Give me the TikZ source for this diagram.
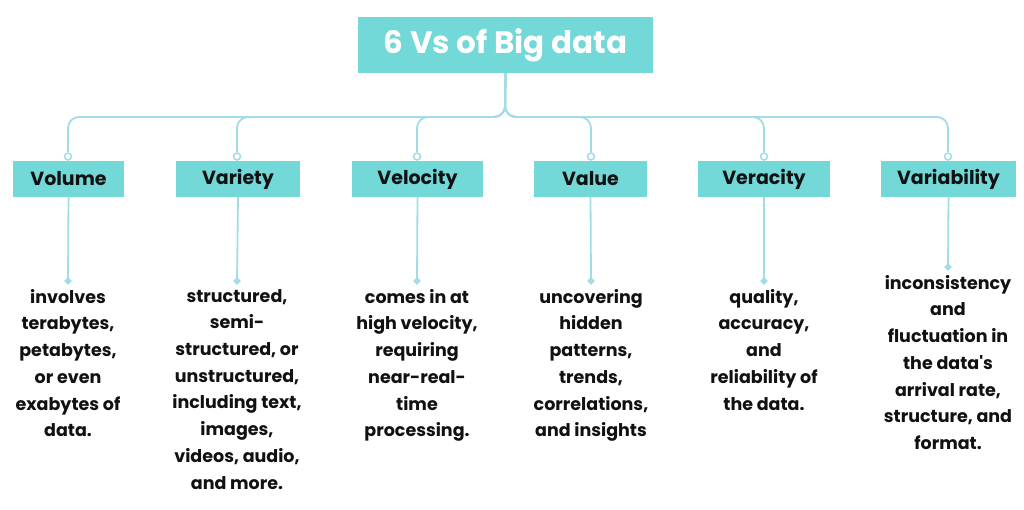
\documentclass[tikz,border=0pt]{standalone}
\usepackage{fontspec}
\setmainfont{Poppins}
\usetikzlibrary{shapes.geometric}
\definecolor{boxteal}{HTML}{72D8D8}
\definecolor{linecol}{HTML}{A2DDE6}
\definecolor{txt}{HTML}{111111}
\tikzset{
  x=1pt,y=-1pt,
  vbox/.style={fill=boxteal,inner sep=0pt,font=\fontsize{19}{22}\selectfont\bfseries,text=txt},
  desc/.style={align=center,font=\fontsize{17.5}{26.7}\selectfont\bfseries,text=txt,anchor=north,inner sep=0pt},
  conn/.style={draw=linecol,line width=1.8pt,rounded corners=11pt},
  ring/.style={circle,draw=linecol,fill=white,line width=1.5pt,minimum size=7pt,inner sep=0pt},
  dia/.style={diamond,fill=linecol,minimum size=8pt,inner sep=0pt},
}
\begin{document}
\begin{tikzpicture}
\useasboundingbox (0,0) rectangle (1024,509);
\fill[white] (0,0) rectangle (1024,509);
\node[fill=boxteal,minimum width=295pt,minimum height=56pt,inner sep=0pt,text=white,font=\fontsize{31}{36}\selectfont\bfseries] (title) at (505.5,45) {6 Vs of Big data};
\coordinate (bus) at (505,117);
% boxes
\node[vbox,minimum width=111pt,minimum height=36pt] (b1) at (68.5,179) {Volume};
\node[vbox,minimum width=124pt,minimum height=36pt] (b2) at (238,179) {Variety};
\node[vbox,minimum width=131pt,minimum height=36pt] (b3) at (417.5,179) {Velocity};
\node[vbox,minimum width=113pt,minimum height=36pt] (b4) at (590.5,179) {Value};
\node[vbox,minimum width=132pt,minimum height=36pt] (b5) at (764,179) {Veracity};
\node[vbox,minimum width=135pt,minimum height=36pt] (b6) at (948.5,179) {Variability};
% rings
\foreach \i/\x in {1/68,2/237,3/417,4/591,5/764,6/948}{
  \node[ring] (r\i) at (\x,156.5) {};
}
% connectors
\foreach \i in {1,...,6}{
  \draw[conn] (title.south) -- (bus) -| (r\i.north);
}
% diamonds
\node[dia] (d1) at (68,281) {};
\node[dia] (d2) at (237,281) {};
\node[dia] (d3) at (417,281) {};
\node[dia] (d4) at (591,281) {};
\node[dia] (d5) at (764,281) {};
\node[dia] (d6) at (948,267) {};
\foreach \i in {1,...,6}{
  \draw[draw=linecol,line width=1.8pt] (b\i.south) -- (d\i.center);
}
% descriptions
\node[desc] (t1) at (68,289) {involves\\terabytes,\\petabytes,\\or even\\exabytes of\\data.};
\node[desc] (t2) at (237,289) {structured,\\semi-\\structured, or\\unstructured,\\including text,\\images,\\videos, audio,\\and more.};
\node[desc] (t3) at (417,289) {comes in at\\high velocity,\\requiring\\near-real-\\time\\processing.};
\node[desc] (t4) at (591,289) {uncovering\\hidden\\patterns,\\trends,\\correlations,\\and insights};
\node[desc] (t5) at (764,289) {quality,\\accuracy,\\and\\reliability of\\the data.};
\node[desc] (t6) at (948,275) {inconsistency\\and\\fluctuation in\\the data\textquotesingle s\\arrival rate,\\structure, and\\format.};
\end{tikzpicture}
\end{document}
